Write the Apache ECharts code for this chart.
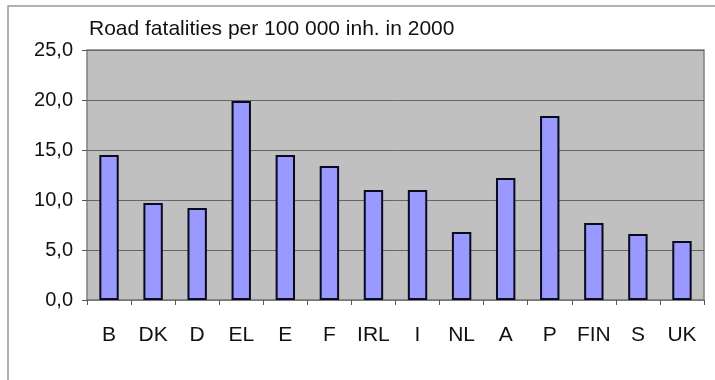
<!DOCTYPE html>
<html>
<head>
<meta charset="utf-8">
<script src="https://cdn.jsdelivr.net/npm/echarts@6/dist/echarts.min.js"></script>
<style>
  html, body { margin: 0; padding: 0; background: #fff; }
  #chart { width: 715px; height: 380px; }
</style>
</head>
<body>
<div id="chart"></div>
<script>
const countries = ['B', 'DK', 'D', 'EL', 'E', 'F', 'IRL', 'I', 'NL', 'A', 'P', 'FIN', 'S', 'UK']
const fatalities = [14.5, 9.7, 9.2, 19.9, 14.5, 13.4, 11.0, 11.0, 6.8, 12.2, 18.4, 7.7, 6.6, 5.9]
const title = 'Road fatalities per 100 000 inh. in 2000'

const chart = echarts.init(document.getElementById('chart'))
chart.setOption({
  backgroundColor: '#fff',
  animation: false,
  title: {
    text: title,
    left: 84, top: 14,
    textStyle: { fontFamily: 'Liberation Sans', fontSize: 21, fontWeight: 'normal', color: '#111' }
  },
  graphic: [
    { type: 'polyline', silent: true, shape: { points: [[8, 385], [8, 6], [720, 6]] }, style: { stroke: '#999', lineWidth: 1.5, fill: null } }
  ],
  grid: {
    left: 87, right: 11, top: 50, bottom: 80,
    show: true, backgroundColor: '#c0c0c0', borderColor: '#808080', borderWidth: 1.5
  },
  xAxis: {
    type: 'category',
    data: countries,
    axisLine: { lineStyle: { color: '#808080', width: 1.5 } },
    axisTick: { show: true, inside: false, length: 5, lineStyle: { color: '#555' } },
    axisLabel: { fontFamily: 'Liberation Sans', fontSize: 21, color: '#111', margin: 25 }
  },
  yAxis: {
    type: 'value',
    min: 0, max: 25, interval: 5,
    axisLine: { show: false },
    axisTick: { show: true, length: 5, lineStyle: { color: '#555' } },
    splitLine: { lineStyle: { color: '#666', width: 1 } },
    axisLabel: {
      fontFamily: 'Liberation Sans', fontSize: 20, color: '#111', margin: 14,
      formatter: v => v.toFixed(1).replace('.', ',')
    }
  },
  series: [{
    type: 'bar',
    data: fatalities,
    barWidth: '44%',
    itemStyle: { color: '#9999ff', borderColor: '#0a0a1e', borderWidth: 2 }
  }]
})
</script>
</body>
</html>
